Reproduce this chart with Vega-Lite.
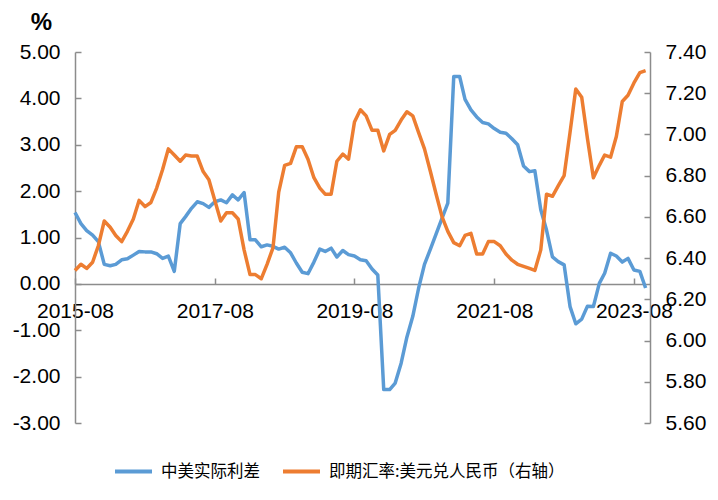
{
  "$schema": "https://vega.github.io/schema/vega-lite/v6.json",
  "width": 575,
  "height": 371,
  "autosize": "none",
  "padding": {"left": 75, "top": 52, "right": 68, "bottom": 77},
  "background": "white",
  "config": {
    "view": {"stroke": null},
    "font": "Liberation Sans",
    "axis": {"domainColor": "#8c8c8c", "tickColor": "#8c8c8c", "domainWidth": 1.5, "tickWidth": 1.5, "grid": false, "labelFont": "Liberation Sans", "labelFontSize": 21, "labelColor": "#000000"},
    "legend": {"orient": "none", "legendX": 38, "legendY": 399, "direction": "horizontal", "symbolType": "stroke", "symbolSize": 1369, "symbolStrokeWidth": 4, "labelFont": "Noto Sans CJK SC", "labelFontSize": 16.5, "labelColor": "#000000", "labelLimit": 500, "columnPadding": 15, "labelOffset": 7, "padding": 0}
  },
  "datasets": {
    "spread": [
      {"date": "2015-08-01T00:00:00", "value": 1.54}, {"date": "2015-09-01T00:00:00", "value": 1.30}, {"date": "2015-10-01T00:00:00", "value": 1.15}, {"date": "2015-11-01T00:00:00", "value": 1.05}, {"date": "2015-12-01T00:00:00", "value": 0.91},
      {"date": "2016-01-01T00:00:00", "value": 0.42}, {"date": "2016-02-01T00:00:00", "value": 0.39}, {"date": "2016-03-01T00:00:00", "value": 0.42}, {"date": "2016-04-01T00:00:00", "value": 0.52}, {"date": "2016-05-01T00:00:00", "value": 0.54}, {"date": "2016-06-01T00:00:00", "value": 0.62}, {"date": "2016-07-01T00:00:00", "value": 0.70}, {"date": "2016-08-01T00:00:00", "value": 0.69}, {"date": "2016-09-01T00:00:00", "value": 0.69}, {"date": "2016-10-01T00:00:00", "value": 0.65}, {"date": "2016-11-01T00:00:00", "value": 0.55}, {"date": "2016-12-01T00:00:00", "value": 0.60},
      {"date": "2017-01-01T00:00:00", "value": 0.27}, {"date": "2017-02-01T00:00:00", "value": 1.30}, {"date": "2017-03-01T00:00:00", "value": 1.45}, {"date": "2017-04-01T00:00:00", "value": 1.63}, {"date": "2017-05-01T00:00:00", "value": 1.77}, {"date": "2017-06-01T00:00:00", "value": 1.73}, {"date": "2017-07-01T00:00:00", "value": 1.65}, {"date": "2017-08-01T00:00:00", "value": 1.77}, {"date": "2017-09-01T00:00:00", "value": 1.81}, {"date": "2017-10-01T00:00:00", "value": 1.75}, {"date": "2017-11-01T00:00:00", "value": 1.92}, {"date": "2017-12-01T00:00:00", "value": 1.81},
      {"date": "2018-01-01T00:00:00", "value": 1.97}, {"date": "2018-02-01T00:00:00", "value": 0.95}, {"date": "2018-03-01T00:00:00", "value": 0.95}, {"date": "2018-04-01T00:00:00", "value": 0.80}, {"date": "2018-05-01T00:00:00", "value": 0.84}, {"date": "2018-06-01T00:00:00", "value": 0.81}, {"date": "2018-07-01T00:00:00", "value": 0.75}, {"date": "2018-08-01T00:00:00", "value": 0.79}, {"date": "2018-09-01T00:00:00", "value": 0.67}, {"date": "2018-10-01T00:00:00", "value": 0.45}, {"date": "2018-11-01T00:00:00", "value": 0.25}, {"date": "2018-12-01T00:00:00", "value": 0.22},
      {"date": "2019-01-01T00:00:00", "value": 0.47}, {"date": "2019-02-01T00:00:00", "value": 0.75}, {"date": "2019-03-01T00:00:00", "value": 0.70}, {"date": "2019-04-01T00:00:00", "value": 0.77}, {"date": "2019-05-01T00:00:00", "value": 0.58}, {"date": "2019-06-01T00:00:00", "value": 0.72}, {"date": "2019-07-01T00:00:00", "value": 0.63}, {"date": "2019-08-01T00:00:00", "value": 0.60}, {"date": "2019-09-01T00:00:00", "value": 0.52}, {"date": "2019-10-01T00:00:00", "value": 0.50}, {"date": "2019-11-01T00:00:00", "value": 0.32}, {"date": "2019-12-01T00:00:00", "value": 0.19},
      {"date": "2020-01-01T00:00:00", "value": -2.28}, {"date": "2020-02-01T00:00:00", "value": -2.28}, {"date": "2020-03-01T00:00:00", "value": -2.14}, {"date": "2020-04-01T00:00:00", "value": -1.71}, {"date": "2020-05-01T00:00:00", "value": -1.15}, {"date": "2020-06-01T00:00:00", "value": -0.70}, {"date": "2020-07-01T00:00:00", "value": -0.10}, {"date": "2020-08-01T00:00:00", "value": 0.42}, {"date": "2020-09-01T00:00:00", "value": 0.75}, {"date": "2020-10-01T00:00:00", "value": 1.08}, {"date": "2020-11-01T00:00:00", "value": 1.42}, {"date": "2020-12-01T00:00:00", "value": 1.74},
      {"date": "2021-01-01T00:00:00", "value": 4.47}, {"date": "2021-02-01T00:00:00", "value": 4.47}, {"date": "2021-03-01T00:00:00", "value": 3.98}, {"date": "2021-04-01T00:00:00", "value": 3.75}, {"date": "2021-05-01T00:00:00", "value": 3.60}, {"date": "2021-06-01T00:00:00", "value": 3.48}, {"date": "2021-07-01T00:00:00", "value": 3.45}, {"date": "2021-08-01T00:00:00", "value": 3.35}, {"date": "2021-09-01T00:00:00", "value": 3.27}, {"date": "2021-10-01T00:00:00", "value": 3.25}, {"date": "2021-11-01T00:00:00", "value": 3.13}, {"date": "2021-12-01T00:00:00", "value": 3.00},
      {"date": "2022-01-01T00:00:00", "value": 2.54}, {"date": "2022-02-01T00:00:00", "value": 2.42}, {"date": "2022-03-01T00:00:00", "value": 2.44}, {"date": "2022-04-01T00:00:00", "value": 1.60}, {"date": "2022-05-01T00:00:00", "value": 1.16}, {"date": "2022-06-01T00:00:00", "value": 0.58}, {"date": "2022-07-01T00:00:00", "value": 0.48}, {"date": "2022-08-01T00:00:00", "value": 0.41}, {"date": "2022-09-01T00:00:00", "value": -0.49}, {"date": "2022-10-01T00:00:00", "value": -0.86}, {"date": "2022-11-01T00:00:00", "value": -0.76}, {"date": "2022-12-01T00:00:00", "value": -0.48},
      {"date": "2023-01-01T00:00:00", "value": -0.49}, {"date": "2023-02-01T00:00:00", "value": 0.01}, {"date": "2023-03-01T00:00:00", "value": 0.23}, {"date": "2023-04-01T00:00:00", "value": 0.66}, {"date": "2023-05-01T00:00:00", "value": 0.60}, {"date": "2023-06-01T00:00:00", "value": 0.47}, {"date": "2023-07-01T00:00:00", "value": 0.55}, {"date": "2023-08-01T00:00:00", "value": 0.30}, {"date": "2023-09-01T00:00:00", "value": 0.27}, {"date": "2023-10-01T00:00:00", "value": -0.09}
    ],
    "fx": [
      {"date": "2015-08-01T00:00:00", "value": 6.34}, {"date": "2015-09-01T00:00:00", "value": 6.37}, {"date": "2015-10-01T00:00:00", "value": 6.35}, {"date": "2015-11-01T00:00:00", "value": 6.38}, {"date": "2015-12-01T00:00:00", "value": 6.46},
      {"date": "2016-01-01T00:00:00", "value": 6.58}, {"date": "2016-02-01T00:00:00", "value": 6.55}, {"date": "2016-03-01T00:00:00", "value": 6.51}, {"date": "2016-04-01T00:00:00", "value": 6.48}, {"date": "2016-05-01T00:00:00", "value": 6.53}, {"date": "2016-06-01T00:00:00", "value": 6.59}, {"date": "2016-07-01T00:00:00", "value": 6.68}, {"date": "2016-08-01T00:00:00", "value": 6.65}, {"date": "2016-09-01T00:00:00", "value": 6.67}, {"date": "2016-10-01T00:00:00", "value": 6.74}, {"date": "2016-11-01T00:00:00", "value": 6.83}, {"date": "2016-12-01T00:00:00", "value": 6.93},
      {"date": "2017-01-01T00:00:00", "value": 6.90}, {"date": "2017-02-01T00:00:00", "value": 6.87}, {"date": "2017-03-01T00:00:00", "value": 6.90}, {"date": "2017-04-01T00:00:00", "value": 6.895}, {"date": "2017-05-01T00:00:00", "value": 6.895}, {"date": "2017-06-01T00:00:00", "value": 6.82}, {"date": "2017-07-01T00:00:00", "value": 6.78}, {"date": "2017-08-01T00:00:00", "value": 6.68}, {"date": "2017-09-01T00:00:00", "value": 6.58}, {"date": "2017-10-01T00:00:00", "value": 6.62}, {"date": "2017-11-01T00:00:00", "value": 6.62}, {"date": "2017-12-01T00:00:00", "value": 6.59},
      {"date": "2018-01-01T00:00:00", "value": 6.44}, {"date": "2018-02-01T00:00:00", "value": 6.32}, {"date": "2018-03-01T00:00:00", "value": 6.32}, {"date": "2018-04-01T00:00:00", "value": 6.30}, {"date": "2018-05-01T00:00:00", "value": 6.37}, {"date": "2018-06-01T00:00:00", "value": 6.45}, {"date": "2018-07-01T00:00:00", "value": 6.72}, {"date": "2018-08-01T00:00:00", "value": 6.85}, {"date": "2018-09-01T00:00:00", "value": 6.86}, {"date": "2018-10-01T00:00:00", "value": 6.94}, {"date": "2018-11-01T00:00:00", "value": 6.94}, {"date": "2018-12-01T00:00:00", "value": 6.88},
      {"date": "2019-01-01T00:00:00", "value": 6.79}, {"date": "2019-02-01T00:00:00", "value": 6.74}, {"date": "2019-03-01T00:00:00", "value": 6.71}, {"date": "2019-04-01T00:00:00", "value": 6.71}, {"date": "2019-05-01T00:00:00", "value": 6.87}, {"date": "2019-06-01T00:00:00", "value": 6.905}, {"date": "2019-07-01T00:00:00", "value": 6.88}, {"date": "2019-08-01T00:00:00", "value": 7.06}, {"date": "2019-09-01T00:00:00", "value": 7.12}, {"date": "2019-10-01T00:00:00", "value": 7.09}, {"date": "2019-11-01T00:00:00", "value": 7.02}, {"date": "2019-12-01T00:00:00", "value": 7.02},
      {"date": "2020-01-01T00:00:00", "value": 6.92}, {"date": "2020-02-01T00:00:00", "value": 7.00}, {"date": "2020-03-01T00:00:00", "value": 7.02}, {"date": "2020-04-01T00:00:00", "value": 7.07}, {"date": "2020-05-01T00:00:00", "value": 7.11}, {"date": "2020-06-01T00:00:00", "value": 7.09}, {"date": "2020-07-01T00:00:00", "value": 7.01}, {"date": "2020-08-01T00:00:00", "value": 6.93}, {"date": "2020-09-01T00:00:00", "value": 6.82}, {"date": "2020-10-01T00:00:00", "value": 6.71}, {"date": "2020-11-01T00:00:00", "value": 6.60}, {"date": "2020-12-01T00:00:00", "value": 6.53},
      {"date": "2021-01-01T00:00:00", "value": 6.475}, {"date": "2021-02-01T00:00:00", "value": 6.46}, {"date": "2021-03-01T00:00:00", "value": 6.51}, {"date": "2021-04-01T00:00:00", "value": 6.52}, {"date": "2021-05-01T00:00:00", "value": 6.42}, {"date": "2021-06-01T00:00:00", "value": 6.42}, {"date": "2021-07-01T00:00:00", "value": 6.48}, {"date": "2021-08-01T00:00:00", "value": 6.48}, {"date": "2021-09-01T00:00:00", "value": 6.46}, {"date": "2021-10-01T00:00:00", "value": 6.42}, {"date": "2021-11-01T00:00:00", "value": 6.39}, {"date": "2021-12-01T00:00:00", "value": 6.37},
      {"date": "2022-01-01T00:00:00", "value": 6.36}, {"date": "2022-02-01T00:00:00", "value": 6.35}, {"date": "2022-03-01T00:00:00", "value": 6.34}, {"date": "2022-04-01T00:00:00", "value": 6.44}, {"date": "2022-05-01T00:00:00", "value": 6.71}, {"date": "2022-06-01T00:00:00", "value": 6.70}, {"date": "2022-07-01T00:00:00", "value": 6.75}, {"date": "2022-08-01T00:00:00", "value": 6.80}, {"date": "2022-09-01T00:00:00", "value": 7.01}, {"date": "2022-10-01T00:00:00", "value": 7.22}, {"date": "2022-11-01T00:00:00", "value": 7.18}, {"date": "2022-12-01T00:00:00", "value": 6.98},
      {"date": "2023-01-01T00:00:00", "value": 6.79}, {"date": "2023-02-01T00:00:00", "value": 6.85}, {"date": "2023-03-01T00:00:00", "value": 6.90}, {"date": "2023-04-01T00:00:00", "value": 6.89}, {"date": "2023-05-01T00:00:00", "value": 6.99}, {"date": "2023-06-01T00:00:00", "value": 7.16}, {"date": "2023-07-01T00:00:00", "value": 7.19}, {"date": "2023-08-01T00:00:00", "value": 7.25}, {"date": "2023-09-01T00:00:00", "value": 7.30}, {"date": "2023-10-01T00:00:00", "value": 7.31}
    ]
  },
  "encoding": {
    "x": {
      "field": "date", "type": "temporal",
      "scale": {"domain": [{"year": 2015, "month": 8, "date": 1}, {"year": 2023, "month": 10, "date": 24}]},
      "axis": {
        "title": null, "format": "%Y-%m", "offset": -139, "tickSize": -6, "labelPadding": 22, "labelFlush": false, "labelOverlap": false,
        "values": [{"year": 2015, "month": 8, "date": 1}, {"year": 2017, "month": 8, "date": 1}, {"year": 2019, "month": 8, "date": 1}, {"year": 2021, "month": 8, "date": 1}, {"year": 2023, "month": 8, "date": 1}]
      }
    }
  },
  "layer": [
    {
      "data": {"name": "spread"},
      "mark": {"type": "line", "strokeWidth": 3.5, "strokeJoin": "round"},
      "encoding": {
        "y": {
          "field": "value", "type": "quantitative",
          "scale": {"domain": [-3, 5], "nice": false, "zero": false},
          "axis": {
            "values": [-3, -2, -1, 0, 1, 2, 3, 4, 5], "format": ".2f", "labelExpr": "replace(datum.label, '\u2212', '-')", "tickSize": -6, "labelPadding": 21,
            "title": "%", "titleAngle": 0, "titleX": -34, "titleY": -30, "titleAlign": "center", "titleBaseline": "middle", "titleFontSize": 24, "titleFontWeight": "bold", "titleFont": "Liberation Sans", "titleColor": "#000000"
          }
        },
        "color": {
          "datum": "中美实际利差",
          "scale": {"domain": ["中美实际利差", "即期汇率:美元兑人民币（右轴）"], "range": ["#5B9BD5", "#ED7D31"]},
          "legend": {"title": null}
        }
      }
    },
    {
      "data": {"name": "fx"},
      "mark": {"type": "line", "strokeWidth": 3.5, "strokeJoin": "round"},
      "encoding": {
        "y": {
          "field": "value", "type": "quantitative",
          "scale": {"domain": [5.6, 7.4], "nice": false, "zero": false},
          "axis": {"orient": "right", "title": null, "values": [5.6, 5.8, 6.0, 6.2, 6.4, 6.6, 6.8, 7.0, 7.2, 7.4], "format": ".2f", "tickSize": -6, "labelPadding": 21}
        },
        "color": {"datum": "即期汇率:美元兑人民币（右轴）"}
      }
    }
  ],
  "resolve": {"scale": {"y": "independent"}}
}
